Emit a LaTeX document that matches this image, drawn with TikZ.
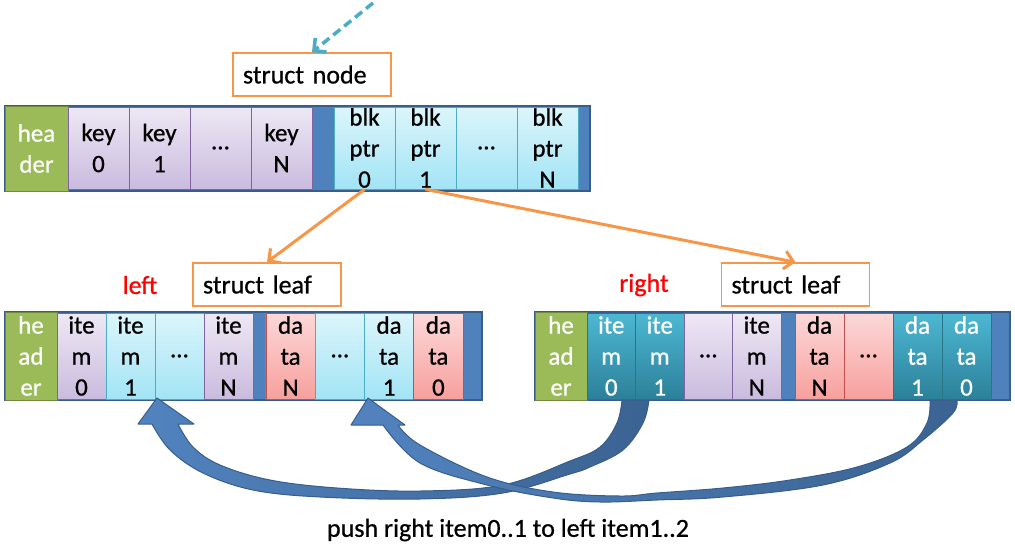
\documentclass[tikz,border=0pt]{standalone}
\usepackage{fontspec}
\setmainfont{Carlito}[FakeBold=0.7]
\usetikzlibrary{arrows.meta}
\definecolor{outF}{HTML}{4F81BD}
\definecolor{outD}{HTML}{385D8A}
\definecolor{grF}{HTML}{9BBB59}
\definecolor{grD}{HTML}{71893F}
\definecolor{purT}{HTML}{EEE8F5}
\definecolor{purB}{HTML}{CABBDE}
\definecolor{purD}{HTML}{8064A2}
\definecolor{cyT}{HTML}{DCF5FB}
\definecolor{cyB}{HTML}{A2E4F5}
\definecolor{cyD}{HTML}{4BACC6}
\definecolor{rdT}{HTML}{FCD8D8}
\definecolor{rdB}{HTML}{F7A09D}
\definecolor{rdD}{HTML}{C0504D}
\definecolor{tlT}{HTML}{4DB8D3}
\definecolor{tlB}{HTML}{2C8099}
\definecolor{tlD}{HTML}{2A7689}
\definecolor{orng}{HTML}{F79646}
\definecolor{arL}{HTML}{5283BF}
\definecolor{arR}{HTML}{3B6392}
\definecolor{arD}{HTML}{385D8A}
\begin{document}
\begin{tikzpicture}[x=1pt,y=-1pt,
  cell/.style={draw, inner sep=0pt, align=center, line width=0.8pt,
    font=\fontsize{25}{31}\selectfont},
  topcell/.style={cell, minimum width=61pt, minimum height=82pt},
  lbcell/.style={cell, minimum width=49pt, minimum height=86pt},
  ldcell/.style={cell, minimum width=49.25pt, minimum height=86pt},
  rbcell/.style={cell, minimum width=48.5pt, minimum height=86pt},
  rdcell/.style={cell, minimum width=49pt, minimum height=86pt},
  cpurple/.style={top color=purT, bottom color=purB, draw=purD},
  ccyan/.style={top color=cyT, bottom color=cyB, draw=cyD},
  cred/.style={top color=rdT, bottom color=rdB, draw=rdD},
  cteal/.style={top color=tlT, bottom color=tlB, draw=tlD, text=white},
  hdr/.style={cell, fill=grF, draw=grD, text=white},
  rowbox/.style={draw=outD, fill=outF, line width=1.2pt, inner sep=0pt},
  labelbox/.style={draw=orng, line width=1.6pt, fill=white, minimum height=43pt,
    align=left, inner xsep=10pt, font=\fontsize{26}{30}\selectfont},
  redlabel/.style={text=red, font=\fontsize{26}{30}\selectfont},
  conn/.style={draw=orng, line width=3pt, -{Straight Barb[length=9pt,width=18pt]}},
  dconn/.style={draw=cyD, line width=3.5pt, dash pattern=on 9pt off 5pt,
    -{Straight Barb[length=9pt,width=18pt]}},
  bigarrow/.style={left color=arL, right color=arR, draw=arD, line width=1pt, line join=round}
]
\useasboundingbox (0,0) rectangle (1015,550);

% ---------- struct node ----------
\node[labelbox, text width=138pt] (sn) at (312,74.5) {struct node};
\coordinate (dstart) at (373,3);
\draw[dconn] (dstart) -- (sn.north);

\node[rowbox, minimum width=585pt, minimum height=85pt] (rowN) at (297.5,148.5) {};
\node[hdr, minimum width=63pt, minimum height=85pt] (hN) at (36.5,148.5) {hea\\der};
\node[topcell, cpurple] (k0) at (98.5,148) {key\\0};
\node[topcell, cpurple] (k1) at (159.5,148) {key\\1};
\node[topcell, cpurple] (kd) at (220.5,148) {…};
\node[topcell, cpurple] (kN) at (281.5,148) {key\\N};
\node[topcell, ccyan] (b0) at (364.5,148) {blk\\ptr\\0};
\node[topcell, ccyan] (b1) at (425.5,148) {blk\\ptr\\1};
\node[topcell, ccyan] (bd) at (486.5,148) {…};
\node[topcell, ccyan] (bN) at (547.5,148) {blk\\ptr\\N};

% ---------- labels ----------
\node[labelbox, text width=128pt] (leafL) at (267,284.5) {struct leaf};
\node[labelbox, text width=128pt] (leafR) at (795.5,284.5) {struct leaf};
\node[redlabel] (lleft) at (140,285) {left};
\node[redlabel] (lright) at (644,285) {right};

\draw[conn] (b0.south) -- (leafL.north);
\draw[conn] (b1.south) -- (leafR.north);

% ---------- left leaf ----------
\node[rowbox, minimum width=477pt, minimum height=88pt] (rowL) at (243.5,356) {};
\node[hdr, minimum width=52pt, minimum height=88pt] (hL) at (31,356) {he\\ad\\er};
\node[lbcell, cpurple] (li0) at (81.5,356) {ite\\m\\0};
\node[lbcell, ccyan] (li1) at (130.5,356) {ite\\m\\1};
\node[lbcell, ccyan] (lid) at (179.5,356) {…};
\node[lbcell, cpurple] (liN) at (228.5,356) {ite\\m\\N};
\node[ldcell, cred] (ldN) at (290.6,356) {da\\ta\\N};
\node[ldcell, ccyan] (ldd) at (339.9,356) {…};
\node[ldcell, ccyan] (ld1) at (389.1,356) {da\\ta\\1};
\node[ldcell, cred] (ld0) at (438.4,356) {da\\ta\\0};

% ---------- right leaf ----------
\node[rowbox, minimum width=475pt, minimum height=88pt] (rowR) at (772.5,356) {};
\node[hdr, minimum width=52pt, minimum height=88pt] (hR) at (561,356) {he\\ad\\er};
\node[rbcell, cteal] (ri0) at (611.25,356) {ite\\m\\0};
\node[rbcell, cteal] (ri1) at (659.75,356) {ite\\m\\1};
\node[rbcell, cpurple] (rid) at (708.25,356) {…};
\node[rbcell, cpurple] (riN) at (756.75,356) {ite\\m\\N};
\node[rdcell, cred] (rdN) at (819.5,356) {da\\ta\\N};
\node[rdcell, cred] (rdd) at (868.5,356) {…};
\node[rdcell, cteal] (rd1) at (917.5,356) {da\\ta\\1};
\node[rdcell, cteal] (rd0) at (966.5,356) {da\\ta\\0};

% ---------- big curved arrows ----------
\path[bigarrow]
  plot[smooth, tension=0.6] coordinates {(649,400) (643,423) (623,450) (590,467) (570,474) (503,493) (420,499) (320,497) (253,490) (203,473) (170,450) (152,424)}
  -- (138,424) -- (157,398) -- (194,424)
  -- plot[smooth, tension=0.6] coordinates {(178,424) (193,447) (220,465) (270,480) (337,488) (420,491) (503,485) (570,461) (600,447) (617,423) (622,400)}
  -- cycle;
\path[bigarrow]
  plot[smooth, tension=0.6] coordinates {(957,400) (953,413) (923,440) (890,463) (823,485) (723,497) (657,500) (600,502) (553,498) (487,485) (420,463) (383,425)}
  -- (351,425) -- (368,398) -- (405,425)
  -- plot[smooth, tension=0.6] coordinates {(398,425) (420,445) (487,477) (553,492) (620,496) (657,493) (723,488) (790,480) (857,467) (907,447) (927,423) (930,400)}
  -- cycle;

\node[font=\fontsize{26}{30}\selectfont] (cap) at (508,530) {push right item0..1 to left item1..2};
\end{tikzpicture}
\end{document}
